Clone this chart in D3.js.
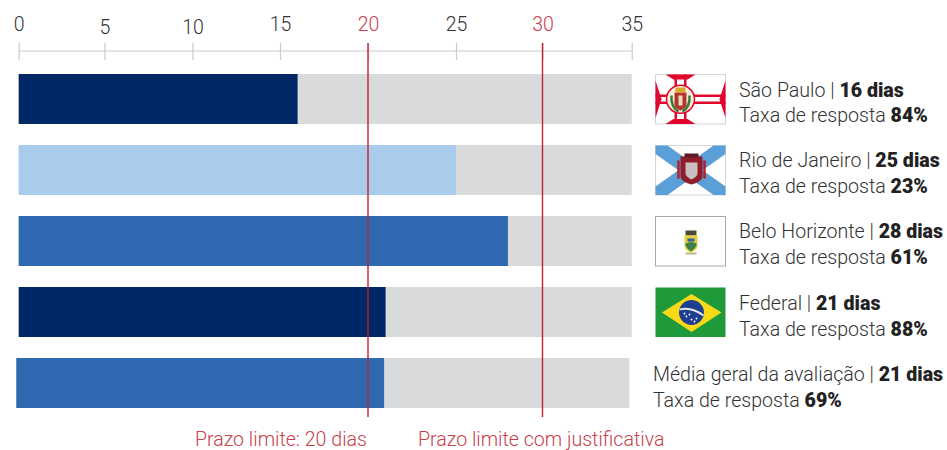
<!DOCTYPE html>
<html>
<head>
<meta charset="utf-8">
<script src="https://cdn.jsdelivr.net/npm/d3@7/dist/d3.min.js"></script>
<style>
html, body { margin: 0; padding: 0; background: #fff; }
svg { display: block; }
text { font-family: Roboto, sans-serif; }
</style>
</head>
<body>
<div id="chart"></div>
<script>
var categories = ["São Paulo", "Rio de Janeiro", "Belo Horizonte", "Federal", "Média geral da avaliação"];
var days = [16, 25, 28, 21, 21];
var responseRate = [84, 23, 61, 88, 69];
var barColors = ["#002766", "#a9cbec", "#2e69b1", "#002766", "#2e69b1"];
var axisTicks = [0, 5, 10, 15, 20, 25, 30, 35];
var axisMax = 35;
var limits = [20, 30];
var limitLabels = ["Prazo limite: 20 dias", "Prazo limite com justificativa"];

var svg = d3.select("#chart").append("svg").attr("width", 947).attr("height", 450);

// tick spacing in the original is not quite even, so the range follows it
var tickPx = [18.7, 104.5, 192.5, 280, 368, 456, 542.5, 631.7];
var x = d3.scaleLinear().domain(axisTicks).range(tickPx);
// the last bar sits a little to the left in the original
var xLast = d3.scaleLinear().domain([0, axisMax]).range([16.3, 629.3]);
var barTop = [74, 145, 216, 287, 358];
var barH = 50;

// axis
var axis = svg.append("g")
    .attr("transform", "translate(0,51)")
    .call(d3.axisTop(x).tickValues(axisTicks).tickSize(8));
axis.select(".domain").attr("stroke", "#c9c9c9").attr("stroke-width", 1.2).attr("d", "M18.7,0H631.7");
axis.selectAll(".tick line").attr("stroke", "#c9c9c9").attr("stroke-width", 1.2).attr("y1", 9).attr("y2", -8);
axis.selectAll(".tick text")
    .attr("y", function(d) { return (d == 5 || d == 10) ? -17 : -20; })
    .attr("dy", 0)
    .style("font-family", "Roboto, sans-serif")
    .style("font-size", "19.5px")
    .style("font-weight", 300)
    .attr("fill", function(d) { return limits.includes(d) ? "#c8414b" : "#333"; });

// bars
categories.forEach(function(c, i) {
    var sc = i == 4 ? xLast : x;
    svg.append("rect").attr("x", sc(0)).attr("y", barTop[i])
        .attr("width", sc(axisMax) - sc(0)).attr("height", barH).attr("fill", "#d8dadc");
    svg.append("rect").attr("x", sc(0)).attr("y", barTop[i])
        .attr("width", sc(days[i]) - sc(0)).attr("height", barH).attr("fill", barColors[i]);
});

// limit lines
limits.forEach(function(l) {
    svg.append("line").attr("x1", x(l)).attr("x2", x(l)).attr("y1", 43).attr("y2", 417)
        .attr("stroke", "#c3202f").attr("stroke-width", 1.4);
});

svg.append("text").attr("x", 367).attr("y", 446).attr("text-anchor", "end")
    .attr("font-size", 19.6).attr("font-weight", 300).attr("fill", "#c8414b").text(limitLabels[0]);
svg.append("text").attr("x", 418).attr("y", 445.5)
    .attr("font-size", 19.6).attr("font-weight", 300).attr("fill", "#c8414b").text(limitLabels[1]);

// labels on the right
var labelX = [739, 739, 739, 739, 653];
var line1 = [97, 167, 238, 310, 381];
var line2 = [122, 193, 264, 336, 407];
categories.forEach(function(c, i) {
    var t1 = svg.append("text").attr("x", labelX[i]).attr("y", line1[i])
        .attr("font-size", 19.6).attr("font-weight", 300).attr("fill", "#333");
    t1.append("tspan").text(c + " | ");
    t1.append("tspan").attr("font-weight", 900).attr("fill", "#222").text(days[i] + " dias");
    var t2 = svg.append("text").attr("x", labelX[i]).attr("y", line2[i])
        .attr("font-size", 19.6).attr("font-weight", 300).attr("fill", "#333");
    t2.append("tspan").text("Taxa de resposta ");
    t2.append("tspan").attr("font-weight", 900).attr("fill", "#222").text(responseRate[i] + "%");
});

// flags, drawn by hand
function flagGroup(y) {
    return svg.append("g").attr("transform", "translate(655.5," + y + ")");
}
function box(g, color) {
    g.append("rect").attr("width", 70).attr("height", 49.5).attr("fill", "#fff")
        .attr("stroke", color).attr("stroke-width", 1);
}

// São Paulo
var sp = flagGroup(74.5);
box(sp, "#d5d5d5");
var red = "#e2062c";
sp.append("rect").attr("x", 0).attr("y", 20).attr("width", 70).attr("height", 2.5).attr("fill", red);
sp.append("rect").attr("x", 0).attr("y", 27).attr("width", 70).attr("height", 2.5).attr("fill", red);
sp.append("rect").attr("x", 19).attr("y", 0).attr("width", 2.5).attr("height", 49.5).attr("fill", red);
sp.append("rect").attr("x", 28.5).attr("y", 0).attr("width", 2.5).attr("height", 49.5).attr("fill", red);
sp.append("path").attr("d", "M0,6L6,24.75L0,43.5Z").attr("fill", red);
sp.append("path").attr("d", "M70,6L64,24.75L70,43.5Z").attr("fill", red);
sp.append("path").attr("d", "M10,0H40L32,5H18Z").attr("fill", red);
sp.append("path").attr("d", "M10,49.5H40L32,44.5H18Z").attr("fill", red);
sp.append("circle").attr("cx", 25).attr("cy", 24.75).attr("r", 14).attr("fill", "#f6efe0").attr("stroke", red).attr("stroke-width", 1.5);
sp.append("path").attr("d", "M19,18H31V29Q31,34 25,36Q19,34 19,29Z").attr("fill", "#b5352a");
sp.append("rect").attr("x", 20).attr("y", 13).attr("width", 10).attr("height", 5).attr("fill", "#d9a928");
sp.append("path").attr("d", "M23,21H27V31H23Z").attr("fill", "#e8dcc0");
sp.append("path").attr("d", "M16,21Q15,32 23,37").attr("fill", "none").attr("stroke", "#3f7a3a").attr("stroke-width", 2.5);
sp.append("path").attr("d", "M34,21Q35,32 27,37").attr("fill", "none").attr("stroke", "#3f7a3a").attr("stroke-width", 2.5);

// Rio de Janeiro
var rj = flagGroup(145.5);
box(rj, "#d5d5d5");
var blue = "#5b9fd8";
rj.append("path").attr("d", "M0,0H12L70,41V49.5H58L0,8.5Z").attr("fill", blue);
rj.append("path").attr("d", "M70,0H58L0,41V49.5H12L70,8.5Z").attr("fill", blue);
rj.append("path").attr("d", "M25,11H47V31Q47,36 36,39Q25,36 25,31Z").attr("fill", "#8f1d2a");
rj.append("rect").attr("x", 29).attr("y", 8).attr("width", 14).attr("height", 4).attr("fill", "#5a1b22");
rj.append("path").attr("d", "M30,17H42V28Q42,31 36,34Q30,31 30,28Z").attr("fill", "#c9bfc0");
rj.append("path").attr("d", "M23,15V33M49,15V33").attr("stroke", "#b0202c").attr("stroke-width", 2.5);

// Belo Horizonte
var bh = flagGroup(216.5);
box(bh, "#a8a8a8");
bh.append("rect").attr("x", 30).attr("y", 14).attr("width", 11).attr("height", 5).attr("fill", "#4d4a35");
bh.append("path").attr("d", "M29,19H42V29Q42,34 35.5,36Q29,34 29,29Z").attr("fill", "#e6d23c");
bh.append("path").attr("d", "M30,27Q35.5,24 41,27V29Q39,33 35.5,35Q32,33 30,29Z").attr("fill", "#3d7f4a");
bh.append("rect").attr("x", 32).attr("y", 22).attr("width", 7).attr("height", 3).attr("fill", "#2e5fa8");
bh.append("rect").attr("x", 30).attr("y", 36).attr("width", 11).attr("height", 2).attr("fill", "#b9b98a");

// Brasil
var br = flagGroup(287.5);
br.append("rect").attr("width", 70).attr("height", 49.5).attr("fill", "#1f9a3a");
br.append("path").attr("d", "M6.5,25L36,6.5L66,25L36,44.5Z").attr("fill", "#f7d917");
br.append("circle").attr("cx", 36).attr("cy", 25).attr("r", 12.5).attr("fill", "#1d3f8f");
br.append("path").attr("d", "M24,22Q36,19 48,28").attr("fill", "none").attr("stroke", "#e8e8e8").attr("stroke-width", 1.8);
br.selectAll("circle.star").data([[31, 29], [36, 32], [41, 31], [34, 27], [39, 34], [29, 26]]).enter().append("circle")
    .attr("class", "star").attr("cx", function(d) { return d[0]; }).attr("cy", function(d) { return d[1]; })
    .attr("r", 0.9).attr("fill", "#fff");
</script>
</body>
</html>
